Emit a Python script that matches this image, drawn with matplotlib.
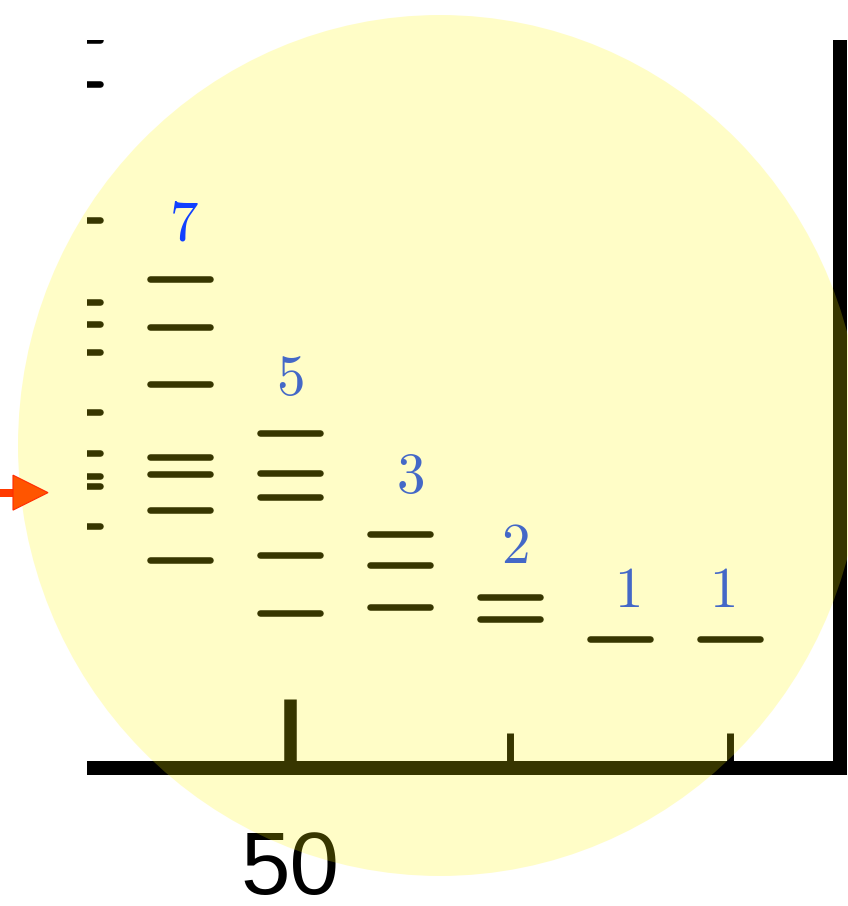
import matplotlib
matplotlib.use("Agg")
import matplotlib.pyplot as plt
from matplotlib.patches import Ellipse, Polygon
from matplotlib.lines import Line2D
from matplotlib.transforms import IdentityTransform, offset_copy

plt.rcParams['mathtext.fontset'] = 'cm'

# group positions along x and the values recorded in each group
group_x = [30, 40, 50, 60, 70, 80, 90]
group_values = [
    [99.9, 93.9, 75.2, 63.9, 60.9, 57.1, 48.9, 43.2, 40.1, 38.7, 33.2],
    [67.1, 60.5, 52.7, 42.7, 40.4, 35.4, 28.6],
    [46.0, 40.5, 37.2, 29.2, 21.3],
    [32.1, 27.9, 22.1],
    [23.5, 20.5],
    [17.7],
    [17.7],
]
major_ticks = [50]
major_labels = ["50"]
minor_ticks = [70, 90]
marker_value = 37.8
highlight_x = 40

# small hand nudges (pixels) for the count labels, per group
label_dx = [0, 4, 0, 10, 5, 7, -8]
label_dy = [0, 2, 1, 4, -3, -5, -5]

W, H, DPI = 848, 906, 100
fig = plt.figure(figsize=(W / DPI, H / DPI), dpi=DPI)

# axes box in pixels (left, right, bottom, top measured from the top edge)
L, R, B, T = 87, 840, 768, 39.5
ax = fig.add_axes([L / W, (H - B) / H, (R - L) / W, (B - T) / H])
ax.set_facecolor('none')

for side in ('left', 'right', 'top', 'bottom'):
    ax.spines[side].set_visible(False)

# ticks
ax.set_xticks(major_ticks)
ax.set_xticklabels(major_labels, fontfamily='Liberation Sans')
ax.set_xticks(minor_ticks, minor=True)
ax.tick_params(axis='x', which='major', direction='in', length=49.7, width=9,
               labelsize=64, pad=44, color='black')
ax.tick_params(axis='x', which='minor', direction='in', length=25, width=5,
               color='black')
ax.tick_params(axis='y', left=False, labelleft=False)

XMIN, XMAX = 31.545, 100.0
ax.set_xlim(XMIN, XMAX)
ax.set_ylim(0, 100)

# bars: one short horizontal dash per value
half = 2.7
for gx, vals in zip(group_x, group_values):
    ax.hlines(vals, gx - half, gx + half, colors='black', linewidth=4.7,
              capstyle='round', zorder=3)

# count labels above each group inside the view
for gx, vals, dx, dy in zip(group_x, group_values, label_dx, label_dy):
    if not XMIN < gx < XMAX:
        continue
    tr = offset_copy(ax.transData, fig=fig, x=dx, y=37 + dy, units='dots')
    ax.text(gx, max(vals), f'${len(vals)}$', transform=tr,
            ha='center', va='baseline', fontsize=41, color='#1040FF',
            zorder=6 if gx == highlight_x else 4, clip_on=True)

# heavy bottom and right axis lines
lw = 14 * 72 / DPI
ax.plot([0, (847 - L) / (R - L)], [0, 0], transform=ax.transAxes,
        color='black', lw=lw, solid_capstyle='butt', clip_on=False, zorder=2.6)
ax.plot([1, 1], [-7 / (B - T), 1], transform=ax.transAxes,
        color='black', lw=lw, solid_capstyle='butt', clip_on=False, zorder=2.6)

ax.set_xlim(XMIN, XMAX)
ax.set_ylim(0, 100)

# translucent yellow highlight disc
disc = Ellipse((440 / W, (H - 445.5) / H), 844 / W, 861 / H,
               transform=fig.transFigure, facecolor='#FFF700', alpha=0.22,
               edgecolor='none', zorder=5, clip_on=False)
ax.add_artist(disc)

# marker arrow on the left pointing at marker_value
y_px = ax.transData.transform((0, marker_value))[1]
shaft = Line2D([0, 24], [y_px, y_px], transform=IdentityTransform(),
               color='#FF3A00', lw=8 * 72 / DPI, solid_capstyle='butt', zorder=3)
head = Polygon([(13, y_px + 17.5), (48, y_px), (13, y_px - 17.5)],
               closed=True, transform=IdentityTransform(),
               facecolor='#FF5500', edgecolor='#FF2A00', lw=0.8, zorder=4)
fig.add_artist(shaft)
fig.add_artist(head)

fig.savefig('out.png', dpi=DPI)
